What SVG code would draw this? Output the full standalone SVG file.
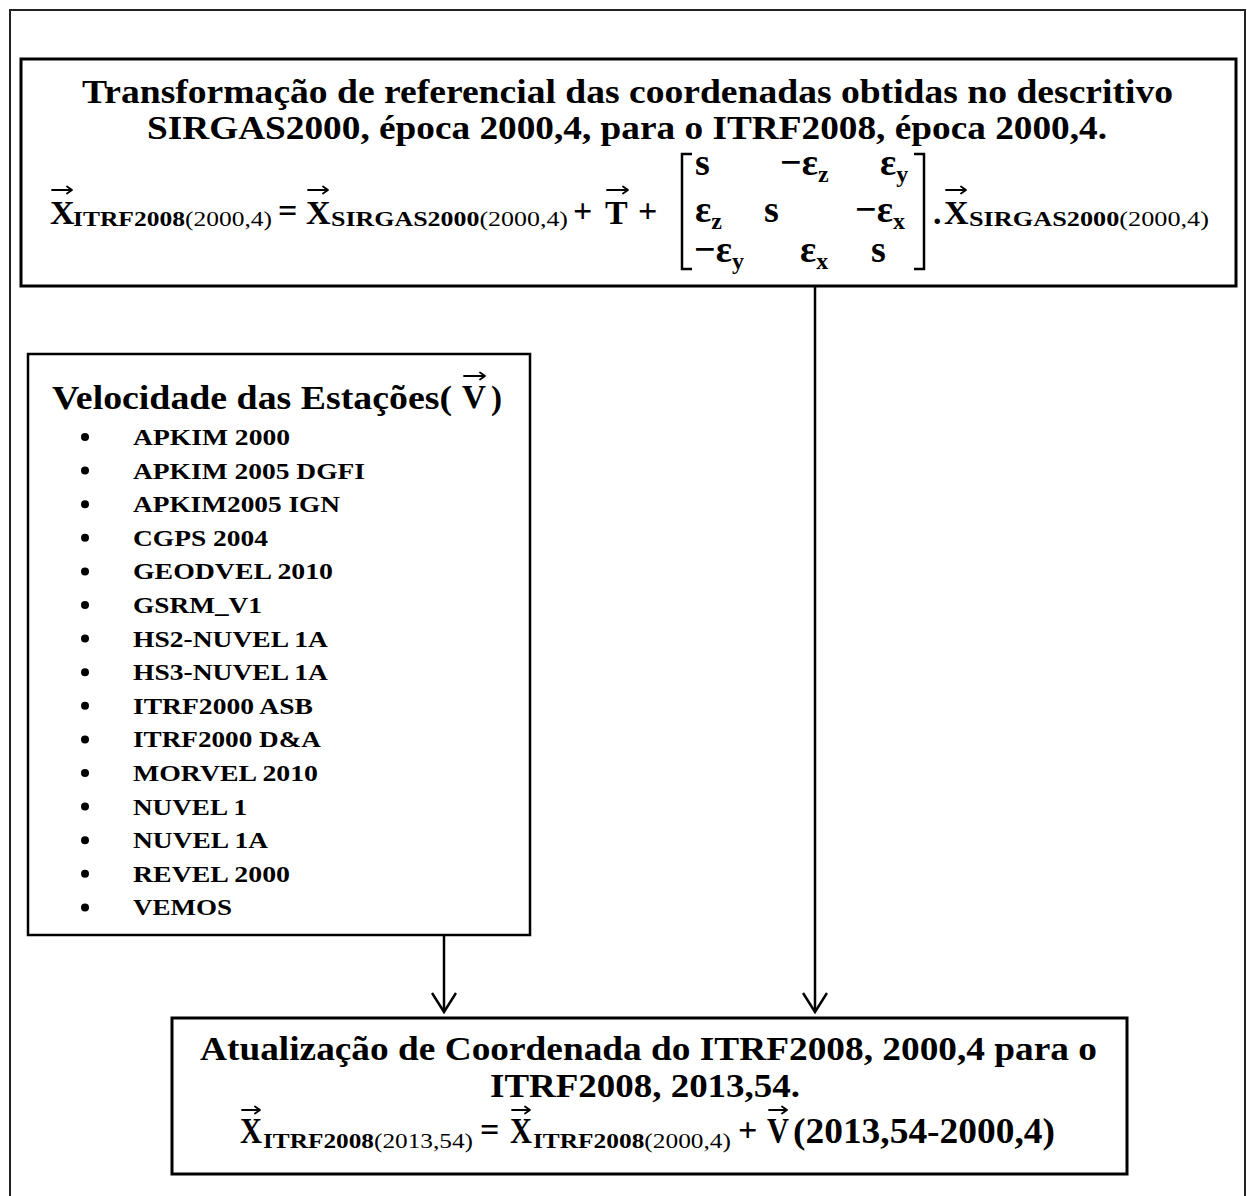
<svg xmlns="http://www.w3.org/2000/svg" width="1247" height="1196" viewBox="0 0 1247 1196" font-family="'Liberation Serif', 'Times New Roman', serif">
<defs>
<style>
text{font-weight:bold;fill:#000}
.n{font-weight:normal}
.box{fill:#fff;stroke:#000;stroke-width:3}
.vec{fill:none;stroke:#000;stroke-width:1.8;stroke-linecap:round;stroke-linejoin:round}
.conn{stroke:#000;stroke-width:2.5;fill:none}
.br{fill:none;stroke:#000;stroke-width:2.5}
.t{font-size:33px}
.big{font-size:34px}
.m{font-size:38px}
.ms{font-size:24px}
.sub{font-size:20px}
.li{font-size:24px}
</style>
<marker id="ah" viewBox="0 0 22 26" refX="20" refY="13" markerWidth="22" markerHeight="26" markerUnits="userSpaceOnUse" orient="auto">
<path d="M1,1 L20,13 L1,25" fill="none" stroke="#000" stroke-width="2.5"/>
</marker>
</defs>
<rect width="1247" height="1196" fill="#fff"/>
<path d="M10,1196 V10 H1245 V1196" fill="none" stroke="#222" stroke-width="2"/>

<g id="node-transformacao">
<rect class="box" x="21" y="59" width="1215" height="227"/>
<text class="t" x="82" y="103" textLength="1091" lengthAdjust="spacingAndGlyphs">Transformação de referencial das coordenadas obtidas no descritivo</text>
<text class="t" x="147" y="139" textLength="960" lengthAdjust="spacingAndGlyphs">SIRGAS2000, época 2000,4, para o ITRF2008, época 2000,4.</text>
<text class="big" x="50" y="224">X</text>
<path class="vec" d="M52,190 H72 M67,186.5 L72,190 L67,193.5"/>
<text class="sub" x="73" y="226" textLength="199" lengthAdjust="spacingAndGlyphs">ITRF2008<tspan class="n">(2000,4)</tspan></text>
<text class="big" x="278" y="222">=</text>
<text class="big" x="306" y="224">X</text>
<path class="vec" d="M308,190 H328 M323,186.5 L328,190 L323,193.5"/>
<text class="sub" x="331" y="226" textLength="237" lengthAdjust="spacingAndGlyphs">SIRGAS2000<tspan class="n">(2000,4)</tspan></text>
<text class="big" x="573" y="222">+</text>
<text class="big" x="605" y="224">T</text>
<path class="vec" d="M607,190 H628 M623,186.5 L628,190 L623,193.5"/>
<text class="big" x="638" y="222">+</text>
<path class="br" d="M692,154 H682 V269 H692"/>
<path class="br" d="M914,154 H924 V269 H914"/>
<text class="m" x="695" y="175">s</text>
<text class="m" x="780" y="175">−ε<tspan class="ms" dy="7">z</tspan></text>
<text class="m" x="880" y="175">ε<tspan class="ms" dy="7">y</tspan></text>
<text class="m" x="695" y="222">ε<tspan class="ms" dy="7">z</tspan></text>
<text class="m" x="764" y="222">s</text>
<text class="m" x="855" y="222">−ε<tspan class="ms" dy="7">x</tspan></text>
<text class="m" x="694" y="262">−ε<tspan class="ms" dy="7">y</tspan></text>
<text class="m" x="800" y="262">ε<tspan class="ms" dy="7">x</tspan></text>
<text class="m" x="871" y="262">s</text>
<text class="big" x="933" y="224">.</text>
<text class="big" x="944" y="224">X</text>
<path class="vec" d="M946,190 H966 M961,186.5 L966,190 L961,193.5"/>
<text class="sub" x="969" y="226" textLength="240" lengthAdjust="spacingAndGlyphs">SIRGAS2000<tspan class="n">(2000,4)</tspan></text>
</g>

<g id="node-velocidade">
<rect class="box" x="28" y="354" width="502" height="581" style="stroke-width:2.5"/>
<text x="52" y="409" style="font-size:33px" textLength="400" lengthAdjust="spacingAndGlyphs">Velocidade das Estações(</text>
<text x="462" y="408" style="font-size:33px">V</text>
<path class="vec" d="M464,376 H485 M480,372.5 L485,376 L480,379.5"/>
<text x="491" y="409" style="font-size:33px">)</text>
<g fill="#000">
<circle cx="85" cy="437" r="4"/><circle cx="85" cy="470.6" r="4"/><circle cx="85" cy="504.2" r="4"/><circle cx="85" cy="537.8" r="4"/><circle cx="85" cy="571.4" r="4"/><circle cx="85" cy="605" r="4"/><circle cx="85" cy="638.6" r="4"/><circle cx="85" cy="672.2" r="4"/><circle cx="85" cy="705.8" r="4"/><circle cx="85" cy="739.4" r="4"/><circle cx="85" cy="773" r="4"/><circle cx="85" cy="806.6" r="4"/><circle cx="85" cy="840.2" r="4"/><circle cx="85" cy="873.8" r="4"/><circle cx="85" cy="907.4" r="4"/>
</g>
<text class="li" x="133" y="445" textLength="157" lengthAdjust="spacingAndGlyphs">APKIM 2000</text>
<text class="li" x="133" y="478.6" textLength="232" lengthAdjust="spacingAndGlyphs">APKIM 2005 DGFI</text>
<text class="li" x="133" y="512.2" textLength="207" lengthAdjust="spacingAndGlyphs">APKIM2005 IGN</text>
<text class="li" x="133" y="545.8" textLength="135" lengthAdjust="spacingAndGlyphs">CGPS 2004</text>
<text class="li" x="133" y="579.4" textLength="200" lengthAdjust="spacingAndGlyphs">GEODVEL 2010</text>
<text class="li" x="133" y="613" textLength="129" lengthAdjust="spacingAndGlyphs">GSRM_V1</text>
<text class="li" x="133" y="646.6" textLength="195" lengthAdjust="spacingAndGlyphs">HS2-NUVEL 1A</text>
<text class="li" x="133" y="680.2" textLength="195" lengthAdjust="spacingAndGlyphs">HS3-NUVEL 1A</text>
<text class="li" x="133" y="713.8" textLength="180" lengthAdjust="spacingAndGlyphs">ITRF2000 ASB</text>
<text class="li" x="133" y="747.4" textLength="188" lengthAdjust="spacingAndGlyphs">ITRF2000 D&amp;A</text>
<text class="li" x="133" y="781" textLength="185" lengthAdjust="spacingAndGlyphs">MORVEL 2010</text>
<text class="li" x="133" y="814.6" textLength="114" lengthAdjust="spacingAndGlyphs">NUVEL 1</text>
<text class="li" x="133" y="848.2" textLength="135" lengthAdjust="spacingAndGlyphs">NUVEL 1A</text>
<text class="li" x="133" y="881.8" textLength="157" lengthAdjust="spacingAndGlyphs">REVEL 2000</text>
<text class="li" x="133" y="915.4" textLength="99" lengthAdjust="spacingAndGlyphs">VEMOS</text>
</g>

<g id="node-atualizacao">
<rect class="box" x="172" y="1018" width="955" height="156"/>
<text x="200" y="1060" style="font-size:34px" textLength="897" lengthAdjust="spacingAndGlyphs">Atualização de Coordenada do ITRF2008, 2000,4 para o</text>
<text x="490" y="1097" style="font-size:34px" textLength="310" lengthAdjust="spacingAndGlyphs">ITRF2008, 2013,54.</text>
<text x="240" y="1143" style="font-size:36px" textLength="22" lengthAdjust="spacingAndGlyphs">X</text>
<path class="vec" d="M242,1110 H260 M255,1106.5 L260,1110 L255,1113.5"/>
<text x="263" y="1148" style="font-size:22px" textLength="210" lengthAdjust="spacingAndGlyphs">ITRF2008<tspan class="n">(2013,54)</tspan></text>
<text x="480" y="1141" style="font-size:34px">=</text>
<text x="510" y="1143" style="font-size:36px" textLength="22" lengthAdjust="spacingAndGlyphs">X</text>
<path class="vec" d="M512,1110 H530 M525,1106.5 L530,1110 L525,1113.5"/>
<text x="533" y="1148" style="font-size:22px" textLength="198" lengthAdjust="spacingAndGlyphs">ITRF2008<tspan class="n">(2000,4)</tspan></text>
<text x="738" y="1141" style="font-size:34px">+</text>
<text x="767" y="1143" style="font-size:36px" textLength="22" lengthAdjust="spacingAndGlyphs">V</text>
<path class="vec" d="M769,1110 H787 M782,1106.5 L787,1110 L782,1113.5"/>
<text x="793" y="1143" style="font-size:36px" textLength="262" lengthAdjust="spacingAndGlyphs">(2013,54-2000,4)</text>
</g>

<g id="connectors">
<line class="conn" x1="444" y1="936" x2="444" y2="1012" marker-end="url(#ah)"/>
<line class="conn" x1="815" y1="287" x2="815" y2="1012" marker-end="url(#ah)"/>
</g>
</svg>
